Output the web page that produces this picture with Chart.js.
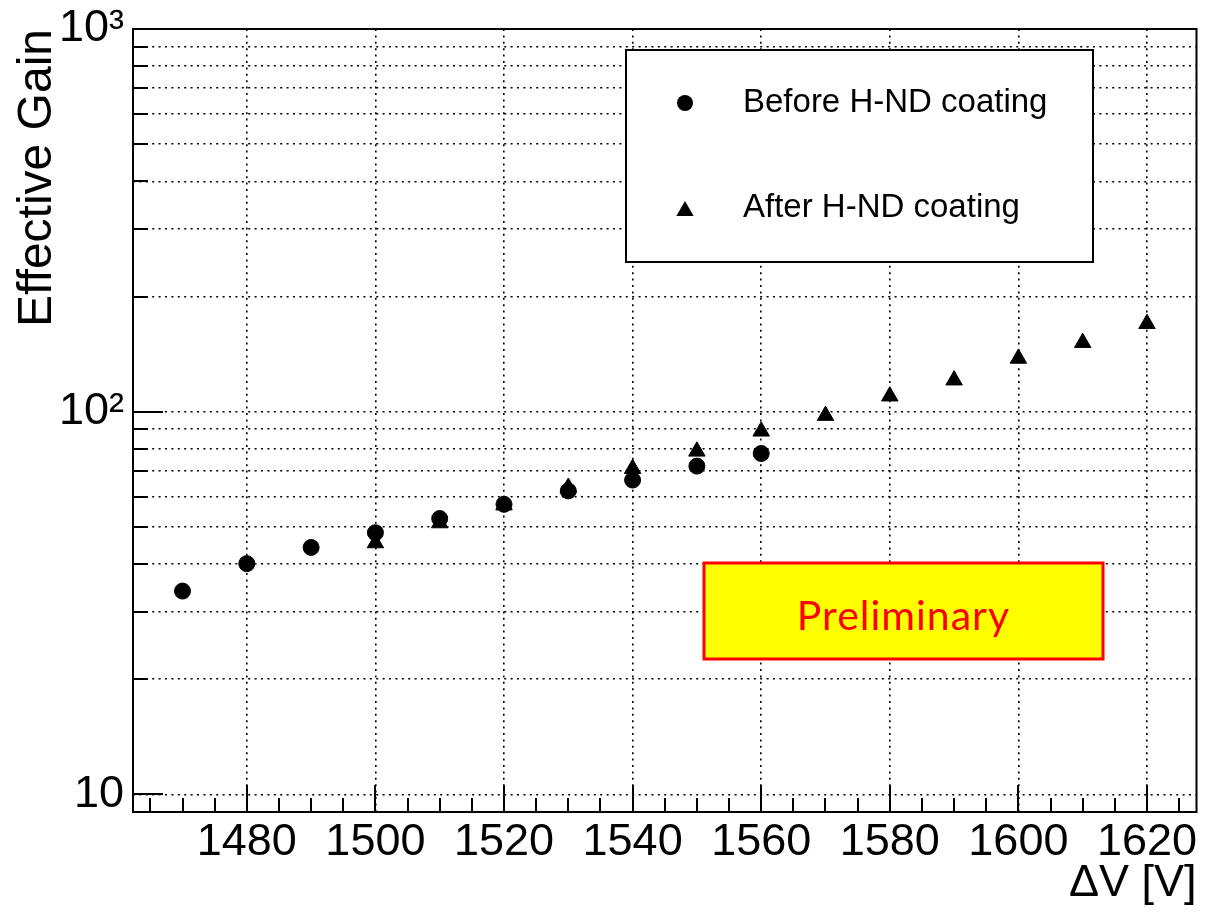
<!DOCTYPE html>
<html>
<head>
<meta charset="utf-8">
<title>Effective Gain vs ΔV</title>
<script src="https://cdn.jsdelivr.net/npm/chart.js@4.4.1/dist/chart.umd.min.js"></script>
<style>
    html, body { margin: 0; padding: 0; background: #fff; }
</style>
</head>
<body>
<canvas id="gainChart" width="1207" height="912"></canvas>
<script>
// --- Data ---
const beforeVoltage = [1470, 1480, 1490, 1500, 1510, 1520, 1530, 1540, 1550, 1560];
const beforeGain    = [34.0, 40.1, 44.2, 48.3, 52.6, 57.3, 62.1, 66.3, 72.1, 77.8];

const afterVoltage = [1500, 1510, 1520, 1530, 1540, 1550, 1560, 1570, 1580, 1590, 1600, 1610, 1620];
const afterGain    = [45.4, 51.2, 57.0, 63.4, 71.0, 78.8, 88.9, 97.7, 109.8, 120.9, 137.8, 151.5, 169.8];

const seriesLabels = ['Before H-ND coating', 'After H-ND coating'];

// --- Axis ticks ---
const xMajorTicks = [1480, 1500, 1520, 1540, 1560, 1580, 1600, 1620];
const xMinorStep = 5;
const yTicks = [10, 20, 30, 40, 50, 60, 70, 80, 90,
                100, 200, 300, 400, 500, 600, 700, 800, 900, 1000];
const yTickLabels = { 10: '10', 100: '10²', 1000: '10³' };

const FONT = '"Liberation Sans", Arial, Helvetica, sans-serif';

const toPoints = (xs, ys) => xs.map((x, i) => ({ x: x, y: ys[i] }));

function markerPath(ctx, style, x, y, r) {
    ctx.beginPath();
    if (style === 'triangle') {
        ctx.moveTo(x, y - r);
        ctx.lineTo(x + r * Math.sqrt(3) / 2, y + r / 2);
        ctx.lineTo(x - r * Math.sqrt(3) / 2, y + r / 2);
        ctx.closePath();
    } else {
        ctx.arc(x, y, r, 0, Math.PI * 2);
    }
    ctx.fill();
}

// frame, inward ticks, legend and the "Preliminary" box
const rootStyle = {
    id: 'rootStyle',
    afterDatasetsDraw(chart) {
        const { ctx, chartArea: a, scales: { x, y } } = chart;
        ctx.save();

        // tick marks pointing into the frame
        ctx.strokeStyle = '#000';
        ctx.lineWidth = 2;
        ctx.beginPath();
        for (let v = Math.ceil(x.min / xMinorStep) * xMinorStep; v <= x.max; v += xMinorStep) {
            const px = Math.round(x.getPixelForValue(v));
            const len = xMajorTicks.includes(v) ? 27 : 14;
            ctx.moveTo(px, a.bottom);
            ctx.lineTo(px, a.bottom - len);
        }
        yTicks.forEach(v => {
            const py = Math.round(y.getPixelForValue(v));
            const len = yTickLabels[v] ? 30 : 15;
            ctx.moveTo(a.left, py);
            ctx.lineTo(a.left + len, py);
        });
        ctx.stroke();

        // frame
        ctx.strokeRect(a.left, a.top, a.right - a.left, a.bottom - a.top);

        // legend
        ctx.fillStyle = '#fff';
        ctx.fillRect(626, 50, 467, 212);
        ctx.strokeStyle = '#000';
        ctx.lineWidth = 2;
        ctx.strokeRect(626, 50, 467, 212);
        const rows = [{ y: 103, base: 112 }, { y: 211, base: 217 }];
        chart.data.datasets.forEach((ds, i) => {
            ctx.fillStyle = '#000';
            markerPath(ctx, ds.pointStyle, 685, rows[i].y, ds.pointStyle === 'triangle' ? 10 : 8);
            ctx.font = '33px ' + FONT;
            ctx.textAlign = 'left';
            ctx.textBaseline = 'alphabetic';
            ctx.fillText(ds.label, 743, rows[i].base);
        });

        // preliminary label
        ctx.fillStyle = '#ffff00';
        ctx.fillRect(704, 563, 399, 96);
        ctx.strokeStyle = '#ff0000';
        ctx.lineWidth = 3;
        ctx.strokeRect(704, 563, 399, 96);
        ctx.fillStyle = '#ff0000';
        ctx.font = '41px Lato, "Noto Sans", sans-serif';
        ctx.letterSpacing = '1px';
        ctx.textAlign = 'center';
        ctx.textBaseline = 'alphabetic';
        ctx.fillText('Preliminary', 903.5, 629.5);

        ctx.restore();
    }
};

document.addEventListener('DOMContentLoaded', () => {
    const ctx = document.getElementById('gainChart');

    new Chart(ctx, {
        type: 'scatter',
        data: {
            datasets: [
                {
                    label: seriesLabels[0],
                    data: toPoints(beforeVoltage, beforeGain),
                    pointStyle: 'circle',
                    pointRadius: 8,
                    pointBorderWidth: 1,
                    backgroundColor: '#000',
                    borderColor: '#000'
                },
                {
                    label: seriesLabels[1],
                    data: toPoints(afterVoltage, afterGain),
                    pointStyle: 'triangle',
                    pointRadius: 9.5,
                    pointBorderWidth: 1,
                    backgroundColor: '#000',
                    borderColor: '#000'
                }
            ]
        },
        options: {
            responsive: false,
            animation: false,
            layout: { padding: { top: 29, right: 8, left: 0, bottom: 0 } },
            plugins: {
                legend: { display: false },
                tooltip: { enabled: false }
            },
            scales: {
                x: {
                    type: 'linear',
                    min: 1462.3,
                    max: 1627.7,
                    afterBuildTicks: s => { s.ticks = xMajorTicks.map(v => ({ value: v })); },
                    afterFit: s => { s.height = 100; s.paddingLeft = 0; s.paddingRight = 0; },
                    grid: { color: '#000', lineWidth: 1.6, drawTicks: false },
                    border: { display: false, dash: [2, 4.4] },
                    ticks: {
                        autoSkip: false,
                        maxRotation: 0,
                        padding: 4,
                        color: '#000',
                        font: { family: FONT, size: 45 },
                        callback: v => String(v)
                    },
                    title: {
                        display: true,
                        text: 'ΔV [V]',
                        align: 'end',
                        color: '#000',
                        font: { family: FONT, size: 45 },
                        padding: { top: 0, bottom: 1 }
                    }
                },
                y: {
                    type: 'logarithmic',
                    min: 9,
                    max: 1000,
                    afterBuildTicks: s => { s.ticks = yTicks.map(v => ({ value: v })); },
                    afterFit: s => { s.width = 133; s.paddingTop = 0; s.paddingBottom = 0; },
                    grid: { color: '#000', lineWidth: 1.6, drawTicks: false },
                    border: { display: false, dash: [2, 4.4] },
                    ticks: {
                        autoSkip: false,
                        padding: 9,
                        color: '#000',
                        font: { family: FONT, size: 45 },
                        callback: v => yTickLabels[v] || ''
                    },
                    title: {
                        display: true,
                        text: 'Effective Gain',
                        align: 'end',
                        color: '#000',
                        font: { family: FONT, size: 48 },
                        padding: { top: 9, bottom: 0 }
                    }
                }
            }
        },
        plugins: [rootStyle]
    });
});
</script>
</body>
</html>
